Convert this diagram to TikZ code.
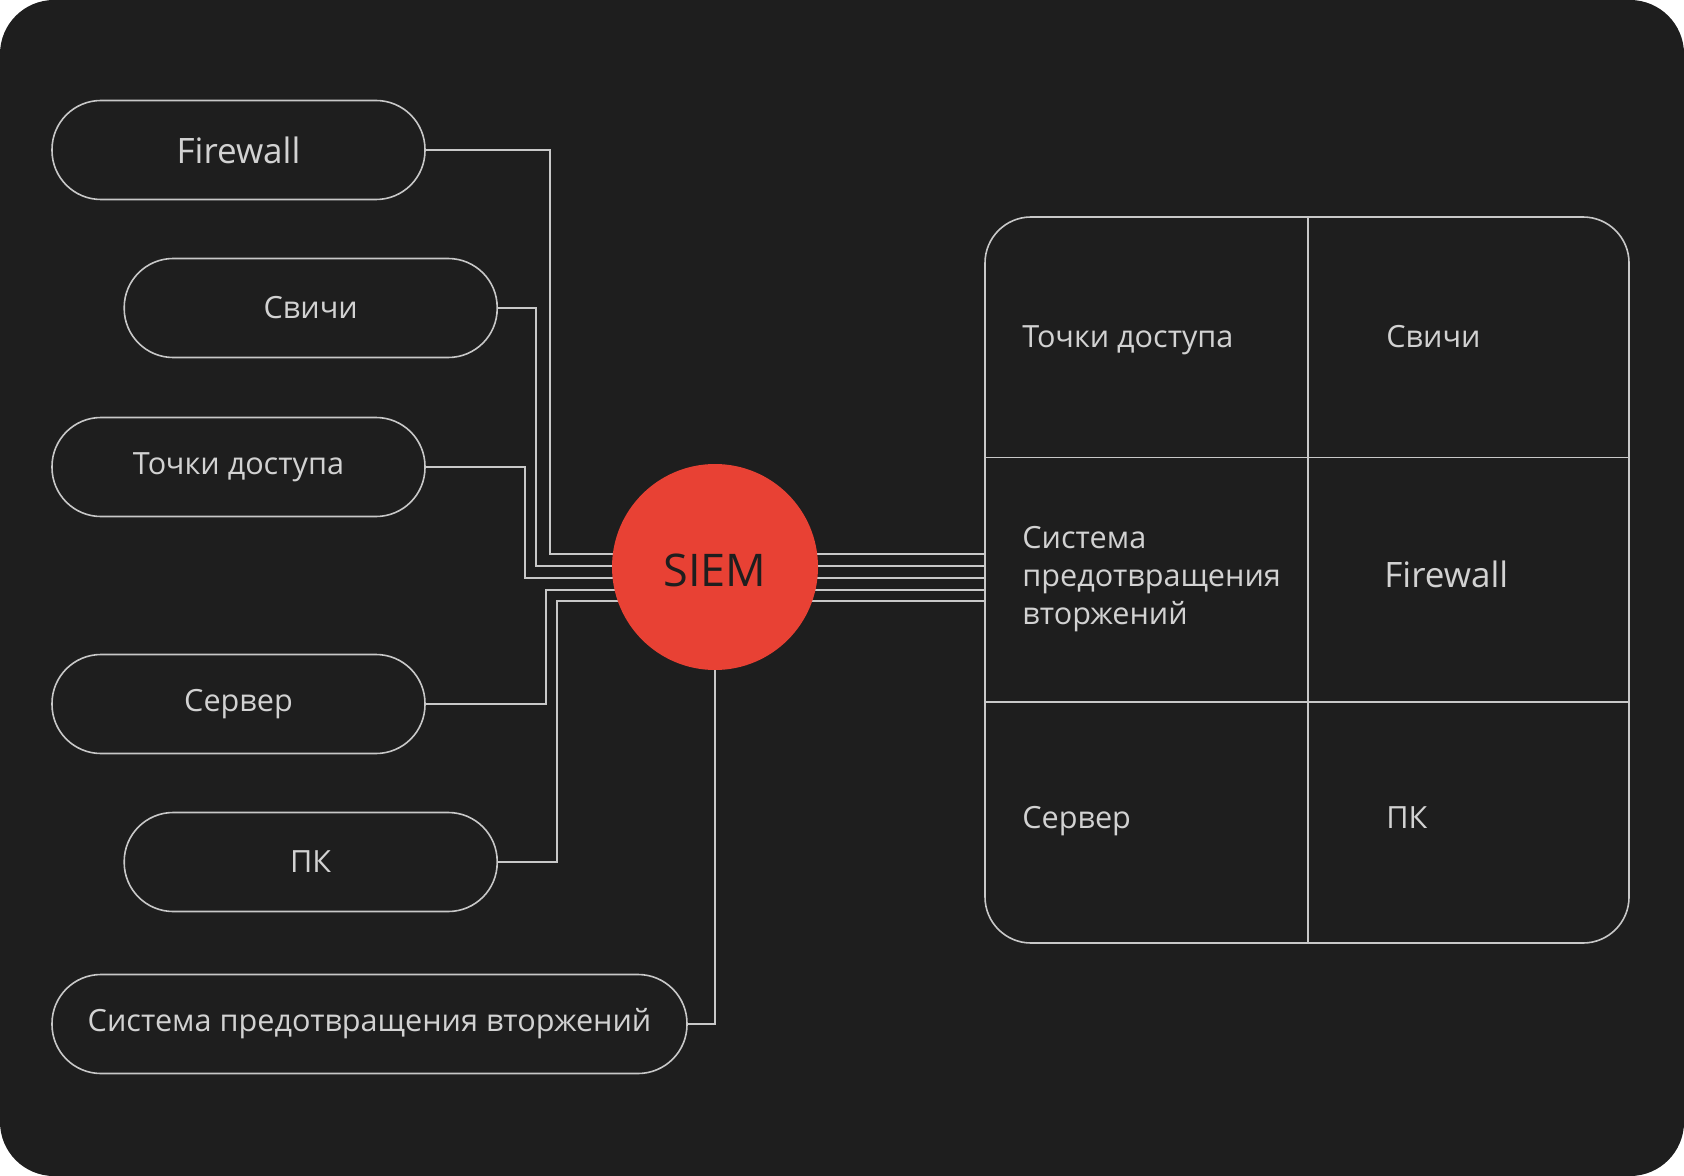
\documentclass[tikz,border=0pt]{standalone}
\usepackage{fontspec}
\setmainfont{Open Sans}
\usepackage{xcolor}
\usepackage{tikz}
\usetikzlibrary{positioning, backgrounds}

\definecolor{bgdark}{HTML}{1E1E1E}
\definecolor{wirecol}{HTML}{C8C8C8}
\definecolor{txtcol}{HTML}{D2D2D2}
\definecolor{siemred}{HTML}{E84134}

\pgfdeclarelayer{backdrop}
\pgfsetlayers{backdrop,background,main}

\begin{document}
\begin{tikzpicture}[
  x=0.5pt, y=-0.5pt,
  %--- style definitions ---
  pill/.style      = {rectangle, rounded corners=24.5pt, draw=wirecol,
                      line width=0.8pt, minimum width=#1, minimum height=49.5pt,
                      text=txtcol, font=\fontsize{15.3}{19}\selectfont},
  pill/.default    = 186.5pt,
  hub/.style       = {circle, fill=siemred, minimum size=103pt, inner sep=0pt,
                      text=bgdark, text height=19pt, text depth=0pt,
                      font=\fontsize{22.5}{26}\selectfont},
  cell/.style      = {anchor=base west, inner sep=0pt, align=left, text=txtcol,
                      font=\fontsize{15.3}{19}\selectfont},
  big/.style       = {font=\fontsize{17.5}{21}\selectfont},
  wire/.style      = {draw=wirecol, line width=0.8pt},
]

%% ── BACKGROUND ─────────────────────────────────────────────────────────────
\begin{pgfonlayer}{backdrop}
  \fill[white] (0,0) rectangle (1684,1176);
  \fill[bgdark, rounded corners=27pt] (0,0) rectangle (1684,1176);
\end{pgfonlayer}

%% ── SOURCES (left) ─────────────────────────────────────────────────────────
\node[pill, big]       (fw)  at (238.5,150)  {Firewall};
\node[pill]            (sw)  at (310.7,308)  {Свичи};
\node[pill]            (ap)  at (238.5,467)  {Точки доступа};
\node[pill]            (srv) at (238.5,704)  {Сервер};
\node[pill]            (pc)  at (310.7,862)  {ПК};
\node[pill=317.5pt]    (ips) at (369.5,1024) {Система предотвращения вторжений};

%% ── SIEM HUB ───────────────────────────────────────────────────────────────
\node[hub] (siem) at (715,567) {SIEM};

%% ── COLLECTED SOURCES (right) ──────────────────────────────────────────────
\node[draw=wirecol, line width=0.8pt, rounded corners=23pt,
      minimum width=322pt, minimum height=363pt, inner sep=0pt] (grid) at (1307,580) {};
\draw[wire] (1308,217) -- (1308,943);
\draw[wire] (985,457.5) -- (1629,457.5);
\draw[wire] (985,702) -- (1629,702);

\node[cell]      (c1) at (1022,347) {Точки доступа};
\node[cell]      (c2) at (1386,347) {Свичи};
\node[cell, anchor=north west] (c3) at (1022,526)
      {Система\\предотвращения\\вторжений};
\node[cell, big] (c4) at (1384,587.5) {Firewall};
\node[cell]      (c5) at (1022,828) {Сервер};
\node[cell]      (c6) at (1386,828) {ПК};

%% ── WIRES ──────────────────────────────────────────────────────────────────
\begin{scope}[on background layer]
  % sources -> hub
  \draw[wire] (fw.east)  -| (550,554) -- (siem.center |- 0,554);
  \draw[wire] (sw.east)  -| (536,566) -- (siem.center |- 0,566);
  \draw[wire] (ap.east)  -| (525,578) -- (siem.center |- 0,578);
  \draw[wire] (srv.east) -| (546,590) -- (siem.center |- 0,590);
  \draw[wire] (pc.east)  -| (557,601) -- (siem.center |- 0,601);
  \draw[wire] (ips.east) -| (siem.center);

  % hub -> table
  \foreach \yy in {554,566,578,590,601}
    \draw[wire] (siem.center |- 0,\yy) -- (grid.west |- 0,\yy);
\end{scope}

\end{tikzpicture}
\end{document}
